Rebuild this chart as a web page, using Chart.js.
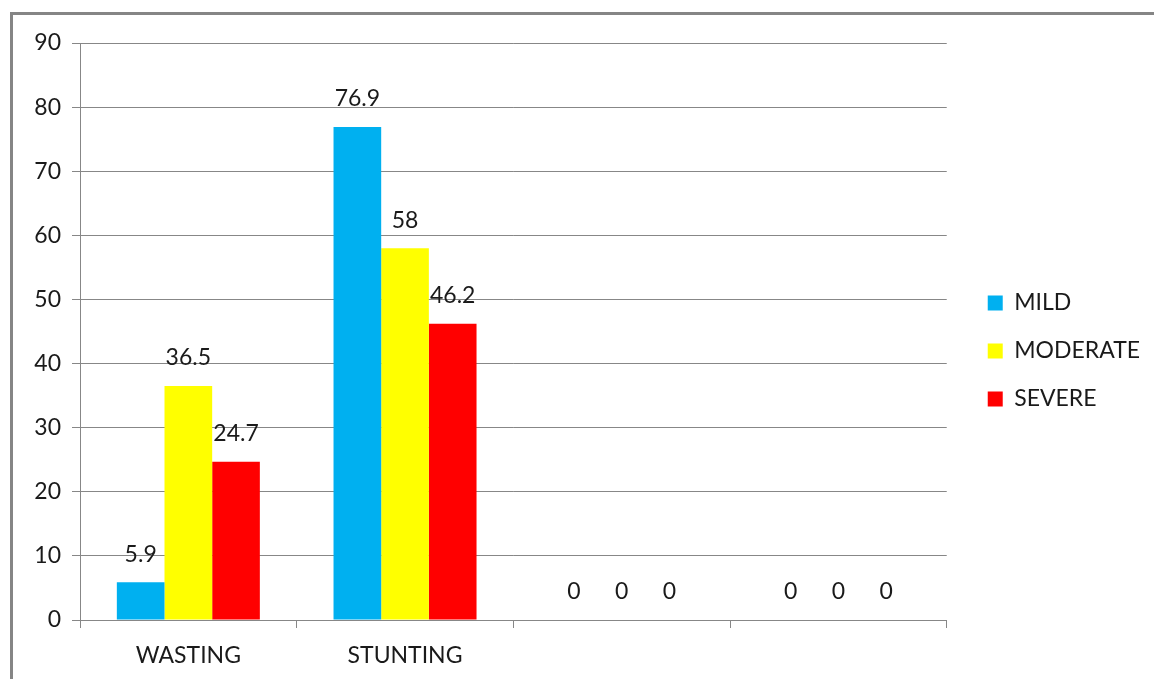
<!DOCTYPE html>
<html>
<head>
<meta charset="utf-8">
<script src="https://cdn.jsdelivr.net/npm/chart.js@4"></script>
<style>
  html, body { margin: 0; padding: 0; background: #fff; }
  #wrap { position: relative; width: 1154px; height: 679px; overflow: hidden; }
  #frame {
    position: absolute; left: 10px; top: 12px; right: -10px; bottom: -10px;
    border-top: 3px solid #858585; border-left: 3px solid #858585;
  }
  canvas { position: absolute; left: 0; top: 0; }
</style>
</head>
<body>
<div id="wrap">
  <div id="frame"></div>
  <canvas id="chart" width="1154" height="679"></canvas>
</div>
<script>
// Malnutrition categories and values
const categories = ['WASTING', 'STUNTING', '', ''];
const mildValues = [5.9, 76.9, 0, 0];
const moderateValues = [36.5, 58, 0, 0];
const severeValues = [24.7, 46.2, 0, 0];
const seriesNames = ['MILD', 'MODERATE', 'SEVERE'];
const seriesColors = ['#00B0F0', '#FFFF00', '#FF0000'];

const FONT = 'Lato, "Open Sans", sans-serif';
const gridColor = '#878787';

// Value labels above each bar
const valueLabels = {
  id: 'valueLabels',
  afterDatasetsDraw(chart) {
    const ctx = chart.ctx;
    ctx.save();
    ctx.font = '23px ' + FONT;
    ctx.fillStyle = '#1a1a1a';
    ctx.textAlign = 'center';
    ctx.textBaseline = 'middle';
    chart.data.datasets.forEach((ds, i) => {
      const meta = chart.getDatasetMeta(i);
      meta.data.forEach((bar, j) => {
        ctx.fillText(String(ds.data[j]), bar.x, bar.y - 28);
      });
    });
    ctx.restore();
  }
};

// Nudge the legend away from the plot, like the original
const legendShift = {
  id: 'legendShift',
  afterLayout(chart) {
    const lg = chart.legend;
    if (!lg) return;
    lg.left += 16;
    lg.right += 16;
    lg.top -= 10;
    lg.bottom -= 10;
  }
};

const ctx = document.getElementById('chart').getContext('2d');
new Chart(ctx, {
  type: 'bar',
  data: {
    labels: categories,
    datasets: [
      { label: seriesNames[0], data: mildValues, backgroundColor: seriesColors[0] },
      { label: seriesNames[1], data: moderateValues, backgroundColor: seriesColors[1] },
      { label: seriesNames[2], data: severeValues, backgroundColor: seriesColors[2] }
    ]
  },
  options: {
    responsive: false,
    animation: false,
    datasets: {
      bar: { categoryPercentage: 0.66, barPercentage: 1, borderWidth: 0 }
    },
    layout: { padding: { top: 43, left: 0, right: 20, bottom: 0 } },
    plugins: {
      legend: {
        position: 'right',
        labels: {
          boxWidth: 15,
          boxHeight: 15,
          padding: 25,
          color: '#1a1a1a',
          font: { family: FONT, size: 23 }
        }
      },
      tooltip: { enabled: false }
    },
    scales: {
      x: {
        afterFit(scale) { scale.height = 59; },
        grid: {
          offset: true,
          drawOnChartArea: false,
          drawTicks: true,
          tickLength: 8,
          color: gridColor
        },
        border: { color: gridColor },
        ticks: {
          padding: 14,
          color: '#1a1a1a',
          font: { family: FONT, size: 23 }
        }
      },
      y: {
        min: 0,
        max: 90,
        afterFit(scale) { scale.width = 80; },
        grid: { color: gridColor, tickLength: 8 },
        border: { color: gridColor },
        ticks: {
          stepSize: 10,
          padding: 11,
          color: '#1a1a1a',
          font: { family: FONT, size: 23 }
        }
      }
    }
  },
  plugins: [valueLabels, legendShift]
});
</script>
</body>
</html>
